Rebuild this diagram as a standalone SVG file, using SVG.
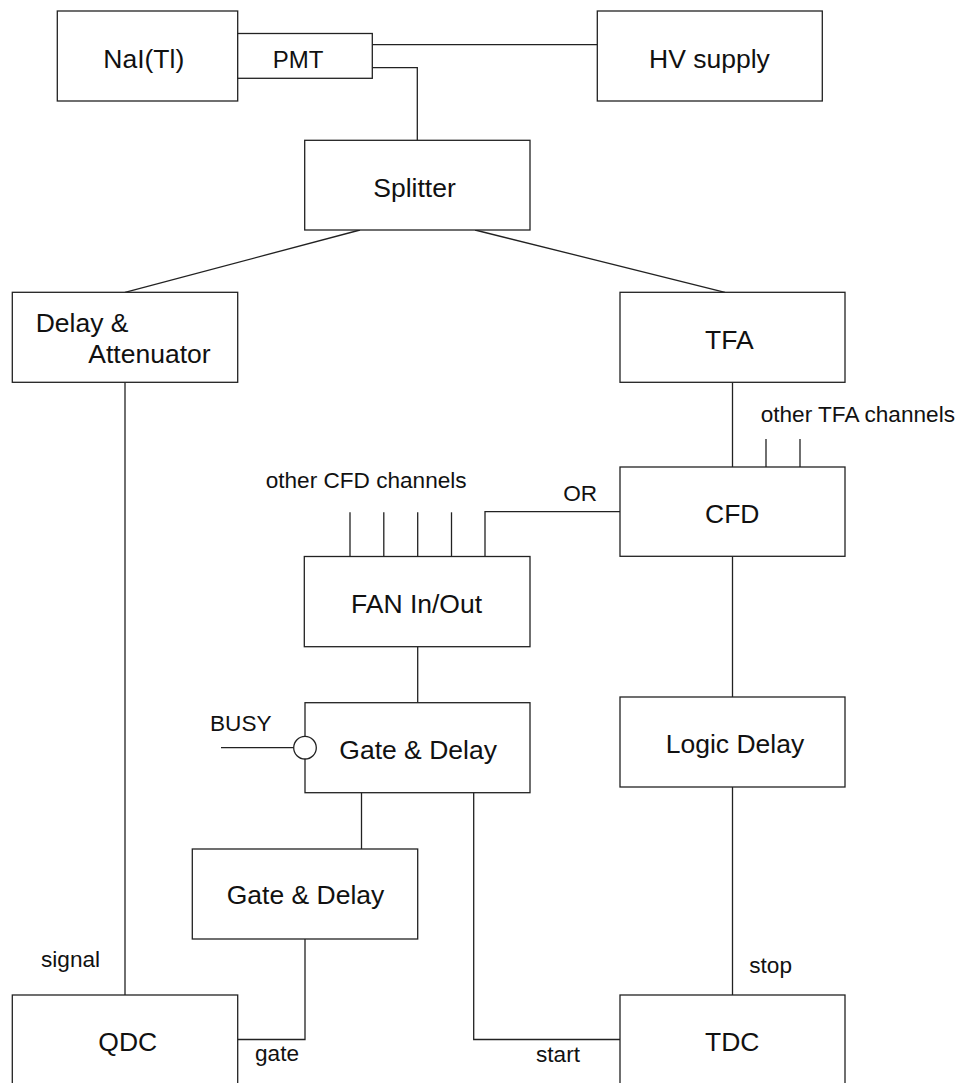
<svg xmlns="http://www.w3.org/2000/svg" width="958" height="1083" viewBox="0 0 958 1083">
<style>
.box{fill:#fff;stroke:#222;stroke-width:1.3}
.ln{fill:none;stroke:#222;stroke-width:1.3}
.lb{font-family:"Liberation Sans",Arial,sans-serif;font-size:26.5px;fill:#111}
.sm{font-family:"Liberation Sans",Arial,sans-serif;font-size:22.6px;fill:#111}
</style>
<rect width="958" height="1083" fill="#fff"/>
<g id="connectors">
<polyline class="ln" points="372,44.7 597.3,44.7"/>
<polyline class="ln" points="372,67.7 417.3,67.7 417.3,140.3"/>
<line class="ln" x1="360" y1="230" x2="125" y2="292.3"/>
<line class="ln" x1="475" y1="230" x2="725" y2="292.3"/>
<line class="ln" x1="732.5" y1="382.3" x2="732.5" y2="467"/>
<line class="ln" x1="766" y1="439" x2="766" y2="467"/>
<line class="ln" x1="800" y1="439" x2="800" y2="467"/>
<polyline class="ln" points="620,511.7 485,511.7 485,556.5"/>
<line class="ln" x1="350" y1="512.3" x2="350" y2="556.5"/>
<line class="ln" x1="383.8" y1="512.3" x2="383.8" y2="556.5"/>
<line class="ln" x1="417.7" y1="512.3" x2="417.7" y2="556.5"/>
<line class="ln" x1="451.5" y1="512.3" x2="451.5" y2="556.5"/>
<line class="ln" x1="417.7" y1="646.7" x2="417.7" y2="702.7"/>
<line class="ln" x1="732.5" y1="556.3" x2="732.5" y2="697"/>
<line class="ln" x1="221" y1="747.7" x2="294" y2="747.7"/>
<line class="ln" x1="361.5" y1="792.7" x2="361.5" y2="849"/>
<polyline class="ln" points="473.7,792.7 473.7,1039.5 620,1039.5"/>
<polyline class="ln" points="305,939 305,1039.5 237.7,1039.5"/>
<line class="ln" x1="125" y1="382.3" x2="125" y2="995"/>
<line class="ln" x1="732.5" y1="787" x2="732.5" y2="995"/>
</g>
<g id="nai"><rect class="box" x="57.3" y="11" width="180.4" height="90"/><text class="lb" x="103.3" y="68.3">NaI(Tl)</text></g>
<g id="pmt"><rect class="box" x="237.7" y="33.5" width="134.6" height="44.8"/><text class="lb" x="272.7" y="68.3" style="font-size:24px">PMT</text></g>
<g id="hv"><rect class="box" x="597.3" y="11" width="225" height="90"/><text class="lb" x="649" y="68.3">HV supply</text></g>
<g id="splitter"><rect class="box" x="304.7" y="140.3" width="225.3" height="89.7"/><text class="lb" x="373.3" y="196.7">Splitter</text></g>
<g id="delayatt"><rect class="box" x="12.3" y="292.3" width="225.4" height="90"/><text class="lb" x="35.7" y="331.7">Delay &amp;</text><text class="lb" x="88.3" y="363.3">Attenuator</text></g>
<g id="tfa"><rect class="box" x="620" y="292.3" width="225" height="90"/><text class="lb" x="705" y="349">TFA</text></g>
<g id="tfa-others"><text class="sm" x="760.7" y="421.7">other TFA channels</text></g>
<g id="cfd"><rect class="box" x="620" y="467" width="225" height="89.3"/><text class="lb" x="705" y="523.3">CFD</text></g>
<g id="or-label"><text class="sm" x="563.3" y="500.7">OR</text></g>
<g id="cfd-others"><text class="sm" x="265.7" y="488.3">other CFD channels</text></g>
<g id="fan"><rect class="box" x="304.3" y="556.5" width="225.7" height="90.2"/><text class="lb" x="351" y="612.7">FAN In/Out</text></g>
<g id="gd1"><rect class="box" x="305" y="702.7" width="225" height="90"/><circle cx="305" cy="747.7" r="11.3" fill="#fff" stroke="#222" stroke-width="1.3"/><text class="lb" x="339.3" y="759">Gate &amp; Delay</text></g>
<g id="busy"><text class="sm" x="210" y="730.7">BUSY</text></g>
<g id="logic"><rect class="box" x="620" y="697" width="225" height="90"/><text class="lb" x="665.7" y="753.3">Logic Delay</text></g>
<g id="gd2"><rect class="box" x="192.3" y="849" width="225.4" height="90"/><text class="lb" x="226.7" y="904.3">Gate &amp; Delay</text></g>
<g id="qdc"><rect class="box" x="12.3" y="995" width="225.4" height="90"/><text class="lb" x="98.3" y="1051">QDC</text></g>
<g id="tdc"><rect class="box" x="620" y="995" width="225" height="90"/><text class="lb" x="705" y="1051">TDC</text></g>
<g id="labels">
<text class="sm" x="41" y="966.7">signal</text>
<text class="sm" x="255" y="1060.7">gate</text>
<text class="sm" x="536" y="1062">start</text>
<text class="sm" x="749.3" y="972.7">stop</text>
</g>
</svg>
